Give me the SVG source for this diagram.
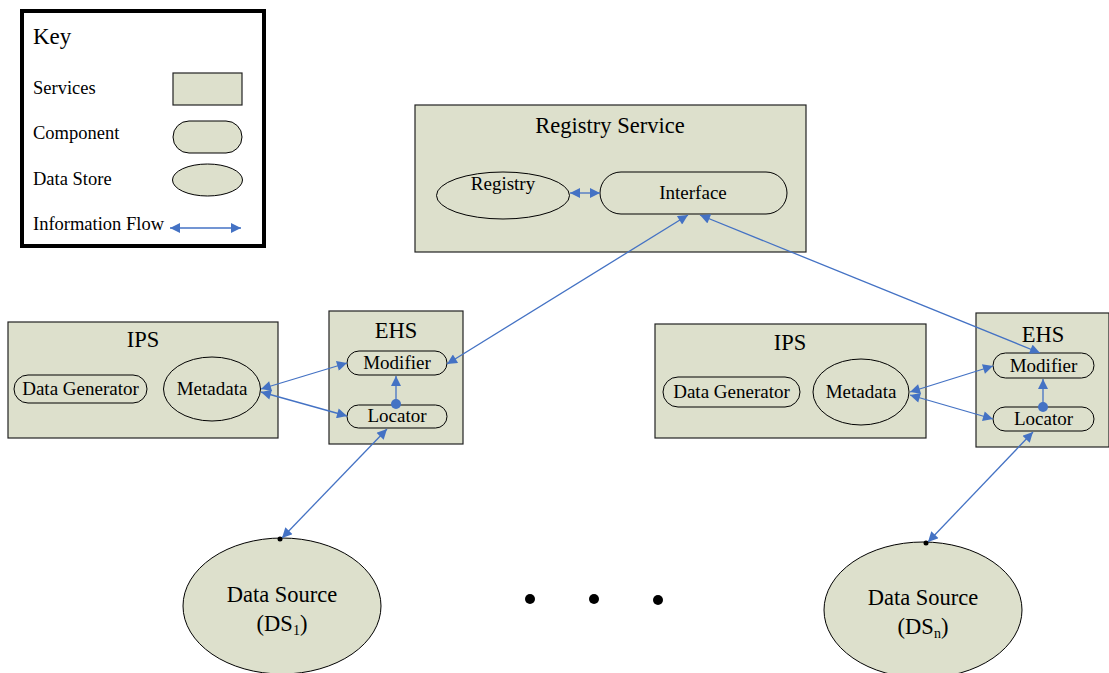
<svg xmlns="http://www.w3.org/2000/svg" width="1109" height="673" viewBox="0 0 1109 673">
<style>
text{font-family:"Liberation Serif","Times New Roman",serif;fill:#000}
.svc{fill:#DDE0CC;stroke:#222;stroke-width:1.2}
.cmp{fill:#DDE0CC;stroke:#000;stroke-width:1}
.flow{stroke:#4472C4;stroke-width:1.3;fill:none;marker-start:url(#ah);marker-end:url(#ah)}
.one{stroke:#4472C4;stroke-width:1.3;fill:none;marker-end:url(#ah)}
.t16{font-size:18.5px}
.t17{font-size:19px}
.t21{font-size:22.5px}
</style>
<defs>
<marker id="ah" viewBox="0 0 10 10" refX="10" refY="5" markerWidth="12" markerHeight="10" markerUnits="userSpaceOnUse" orient="auto-start-reverse">
<path d="M0,0 L10,5 L0,10 z" fill="#4472C4"/>
</marker>
</defs>
<rect width="1109" height="673" fill="#fff"/>

<g id="key">
<rect x="22" y="11" width="242" height="235" fill="#fff" stroke="#000" stroke-width="4"/>
<text x="33" y="44" font-size="23">Key</text>
<text x="33" y="94" class="t16">Services</text>
<rect x="173" y="73" width="69" height="32" class="svc"/>
<text x="33" y="139" class="t16">Component</text>
<rect x="173" y="121" width="69" height="32" rx="16" class="cmp"/>
<text x="33" y="185" class="t16">Data Store</text>
<ellipse cx="207.5" cy="180" rx="35" ry="16" class="cmp"/>
<text x="33" y="230" class="t16">Information Flow</text>
<line x1="170" y1="228" x2="241" y2="228" class="flow"/>
</g>

<g id="registry-service">
<rect x="415" y="105" width="391" height="147" class="svc"/>
<text x="610" y="133" text-anchor="middle" class="t21">Registry Service</text>
</g>
<g id="registry">
<ellipse cx="503" cy="195.5" rx="66.5" ry="23.5" class="cmp"/>
<text x="503" y="190" text-anchor="middle" class="t17">Registry</text>
</g>
<g id="interface">
<rect x="600" y="172" width="187" height="42" rx="21" class="cmp"/>
<text x="693" y="199" text-anchor="middle" class="t17">Interface</text>
</g>

<g id="ips-left">
<rect x="8" y="322" width="270" height="116" class="svc"/>
<text x="143" y="347" text-anchor="middle" class="t21">IPS</text>
</g>
<g id="datagen-left">
<rect x="14" y="375" width="133" height="28" rx="14" class="cmp"/>
<text x="80.5" y="395" text-anchor="middle" class="t17">Data Generator</text>
</g>
<g id="metadata-left">
<ellipse cx="212" cy="389" rx="48.5" ry="32" class="cmp"/>
<text x="212" y="395" text-anchor="middle" class="t17">Metadata</text>
</g>

<g id="ehs-left">
<rect x="329" y="311" width="134" height="133" class="svc"/>
<text x="396" y="338" text-anchor="middle" class="t21">EHS</text>
</g>
<g id="modifier-left">
<rect x="347" y="351" width="100" height="24" rx="12" class="cmp"/>
<text x="397" y="369" text-anchor="middle" class="t17">Modifier</text>
</g>
<g id="locator-left">
<rect x="347" y="405" width="100" height="23" rx="11.5" class="cmp"/>
<text x="397" y="422" text-anchor="middle" class="t17">Locator</text>
</g>

<g id="ips-right">
<rect x="655" y="324" width="271" height="114" class="svc"/>
<text x="790" y="350" text-anchor="middle" class="t21">IPS</text>
</g>
<g id="datagen-right">
<rect x="663" y="377" width="137" height="30" rx="15" class="cmp"/>
<text x="731.5" y="398" text-anchor="middle" class="t17">Data Generator</text>
</g>
<g id="metadata-right">
<ellipse cx="861" cy="392" rx="48" ry="33" class="cmp"/>
<text x="861" y="398" text-anchor="middle" class="t17">Metadata</text>
</g>

<g id="ehs-right">
<rect x="976" y="313" width="133" height="134" class="svc"/>
<text x="1043" y="342" text-anchor="middle" class="t21">EHS</text>
</g>
<g id="modifier-right">
<rect x="993" y="353" width="101" height="25" rx="12.5" class="cmp"/>
<text x="1043.5" y="372" text-anchor="middle" class="t17">Modifier</text>
</g>
<g id="locator-right">
<rect x="993" y="407" width="101" height="24" rx="12" class="cmp"/>
<text x="1043.5" y="425" text-anchor="middle" class="t17">Locator</text>
</g>

<g id="ds1">
<ellipse cx="282" cy="606" rx="99" ry="68" class="cmp"/>
<text x="282" y="602" text-anchor="middle" class="t21">Data Source</text>
<text x="282" y="631" text-anchor="middle" class="t21">(DS<tspan font-size="14" dy="4">1</tspan><tspan dy="-4">)</tspan></text>
</g>
<g id="dsn">
<ellipse cx="923" cy="610" rx="99" ry="68" class="cmp"/>
<text x="923" y="605" text-anchor="middle" class="t21">Data Source</text>
<text x="923" y="634" text-anchor="middle" class="t21">(DS<tspan font-size="14" dy="4">n</tspan><tspan dy="-4">)</tspan></text>
</g>

<g id="ellipsis">
<circle cx="530" cy="599" r="5" fill="#000"/>
<circle cx="594" cy="599" r="5" fill="#000"/>
<circle cx="658" cy="600" r="5" fill="#000"/>
</g>

<g id="connectors">
<line x1="570" y1="193" x2="600" y2="193" class="flow"/>
<line x1="447" y1="364" x2="688" y2="215" class="flow"/>
<line x1="1040" y1="353" x2="700" y2="215" class="flow"/>
<line x1="261" y1="389" x2="347" y2="363" class="flow"/>
<line x1="261" y1="392" x2="347" y2="416" class="flow"/>
<line x1="910" y1="392" x2="993" y2="366" class="flow"/>
<line x1="910" y1="395" x2="993" y2="419" class="flow"/>
<line x1="396" y1="404" x2="396" y2="376" class="one"/>
<circle cx="396" cy="404" r="5" fill="#4472C4"/>
<line x1="1043" y1="407" x2="1043" y2="379" class="one"/>
<circle cx="1043" cy="407" r="5" fill="#4472C4"/>
<line x1="387" y1="429" x2="282" y2="538" class="flow"/>
<circle cx="280" cy="539" r="2.5" fill="#000"/>
<line x1="1033" y1="432" x2="928" y2="542" class="flow"/>
<circle cx="926" cy="543" r="2.5" fill="#000"/>
</g>
</svg>
